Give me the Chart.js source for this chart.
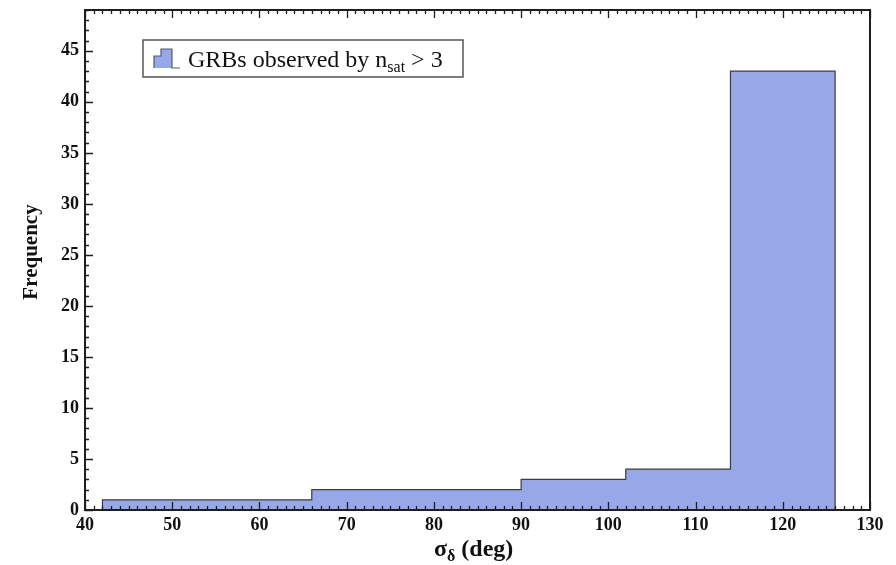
<!DOCTYPE html>
<html>
<head>
<meta charset="utf-8">
<script src="https://cdn.jsdelivr.net/npm/chart.js@4.4.1/dist/chart.umd.min.js"></script>
<style>
  html, body { margin: 0; padding: 0; background: #ffffff; }
  #wrap { width: 896px; height: 565px; position: relative; }
</style>
</head>
<body>
<div id="wrap"><canvas id="c" width="896" height="565"></canvas></div>
<script>
// ---- data ----
const binEdges = [42, 54, 66, 78, 90, 102, 114, 126];
const counts   = [1, 1, 2, 2, 3, 4, 43];
const xTicks   = [40, 50, 60, 70, 80, 90, 100, 110, 120, 130];
const yTicks   = [0, 5, 10, 15, 20, 25, 30, 35, 40, 45];
const seriesLabel = 'GRBs observed by n';
const seriesSub = 'sat';
const seriesTail = ' > 3';
const yTitle = 'Frequency';

// build step outline from the histogram data
const stepPts = [{x: binEdges[0], y: 0}];
for (let i = 0; i < counts.length; i++) stepPts.push({x: binEdges[i], y: counts[i]});
stepPts.push({x: binEdges[binEdges.length - 1], y: counts[counts.length - 1]});
stepPts.push({x: binEdges[binEdges.length - 1], y: 0});

const FILL = '#97a8e8';
const EDGE = '#3c3c3c';
const FRAME = '#1e1e1e';
const SERIF = '"Liberation Serif", "Times New Roman", serif';

const framePlugin = {
  id: 'framePlugin',
  afterDraw(chart) {
    const ctx = chart.ctx;
    const a = chart.chartArea;
    const xs = chart.scales.x, ys = chart.scales.y;
    ctx.save();
    // frame
    ctx.strokeStyle = FRAME;
    ctx.lineWidth = 2;
    ctx.strokeRect(a.left, a.top, a.right - a.left, a.bottom - a.top);
    // inward ticks
    ctx.lineWidth = 1.3;
    ctx.beginPath();
    for (let v = xs.min; v <= xs.max; v += 1) {
      const px = Math.round(xs.getPixelForValue(v)) + 0.5;
      const major = v % 10 === 0;
      const len = major ? 8 : 4;
      ctx.moveTo(px, a.bottom); ctx.lineTo(px, a.bottom - len);
      ctx.moveTo(px, a.top); ctx.lineTo(px, a.top + len);
    }
    for (let v = ys.min; v <= ys.max; v += 1) {
      const py = Math.round(ys.getPixelForValue(v)) + 0.5;
      const major = v % 5 === 0;
      const len = major ? 8 : 4;
      ctx.moveTo(a.left, py); ctx.lineTo(a.left + len, py);
    }
    ctx.stroke();

    // legend box
    const lx = 143, ly = 40, lw = 320, lh = 37;
    ctx.fillStyle = '#ffffff';
    ctx.fillRect(lx, ly, lw, lh);
    ctx.strokeStyle = '#555555';
    ctx.lineWidth = 1.5;
    ctx.strokeRect(lx, ly, lw, lh);
    // legend icon (small histogram glyph)
    ctx.beginPath();
    ctx.moveTo(154, 68); ctx.lineTo(154, 56); ctx.lineTo(161, 56); ctx.lineTo(161, 49);
    ctx.lineTo(172, 49); ctx.lineTo(172, 68); ctx.closePath();
    ctx.fillStyle = FILL; ctx.fill();
    ctx.beginPath();
    ctx.moveTo(154, 68); ctx.lineTo(154, 56); ctx.lineTo(161, 56); ctx.lineTo(161, 49);
    ctx.lineTo(172, 49); ctx.lineTo(172, 68); ctx.lineTo(180, 68);
    ctx.strokeStyle = '#555a70'; ctx.lineWidth = 1.2; ctx.stroke();
    // legend text
    ctx.fillStyle = '#111111';
    ctx.textBaseline = 'alphabetic';
    ctx.textAlign = 'left';
    let tx = 188;
    ctx.font = '24px ' + SERIF;
    ctx.fillText(seriesLabel, tx, 67);
    tx += ctx.measureText(seriesLabel).width;
    ctx.font = '16px ' + SERIF;
    ctx.fillText(seriesSub, tx, 72);
    tx += ctx.measureText(seriesSub).width;
    ctx.font = '24px ' + SERIF;
    ctx.fillText(seriesTail, tx, 67);

    // x axis title with subscript
    ctx.font = 'bold 24px ' + SERIF;
    let xt = 434;
    ctx.fillText('σ', xt, 556);
    xt += ctx.measureText('σ').width;
    ctx.font = 'bold 16px ' + SERIF;
    ctx.fillText('δ', xt, 561);
    xt += ctx.measureText('δ').width;
    ctx.font = 'bold 24px ' + SERIF;
    ctx.fillText(' (deg)', xt, 556);

    // y axis title
    ctx.translate(37, 252);
    ctx.rotate(-Math.PI / 2);
    ctx.textAlign = 'center';
    ctx.font = 'bold 21px ' + SERIF;
    ctx.fillText(yTitle, 0, 0);
    ctx.restore();
  }
};

new Chart(document.getElementById('c'), {
  type: 'line',
  data: {
    datasets: [{
      label: 'hist',
      data: stepPts,
      stepped: 'before',
      fill: 'origin',
      backgroundColor: FILL,
      borderColor: EDGE,
      borderWidth: 1.2,
      pointRadius: 0,
      tension: 0
    }]
  },
  options: {
    responsive: false,
    animation: false,
    devicePixelRatio: 1,
    layout: { padding: { left: 0, right: 26, top: 10, bottom: 0 } },
    plugins: { legend: { display: false }, tooltip: { enabled: false } },
    scales: {
      x: {
        type: 'linear', min: 40, max: 130,
        grid: { display: false, drawTicks: false },
        border: { display: false },
        afterBuildTicks(s) { s.ticks = xTicks.map(v => ({value: v})); },
        afterFit(s) { s.height = 55; s.paddingLeft = 0; s.paddingRight = 0; },
        ticks: {
          padding: 5, color: '#111111', maxRotation: 0, autoSkip: false,
          font: { family: SERIF, size: 18, weight: 'bold' }
        }
      },
      y: {
        type: 'linear', min: 0, max: 49,
        grid: { display: false, drawTicks: false },
        border: { display: false },
        afterBuildTicks(s) { s.ticks = yTicks.map(v => ({value: v})); },
        afterFit(s) { s.width = 85; s.paddingTop = 0; s.paddingBottom = 0; },
        ticks: {
          padding: 6, color: '#111111', autoSkip: false,
          font: { family: SERIF, size: 18, weight: 'bold' }
        }
      }
    }
  },
  plugins: [framePlugin]
});
</script>
</body>
</html>
